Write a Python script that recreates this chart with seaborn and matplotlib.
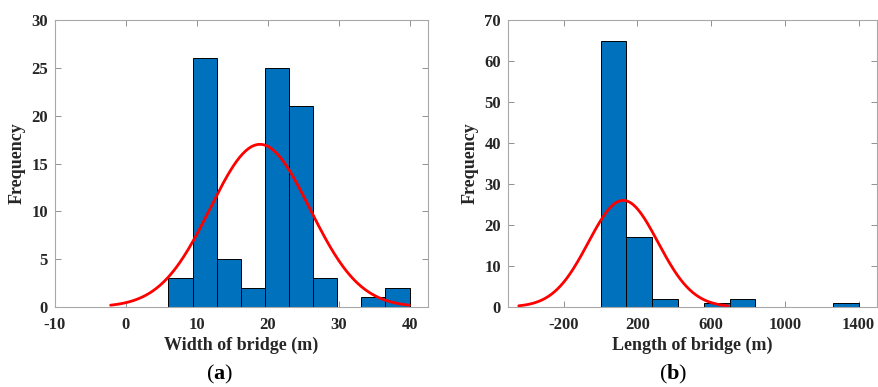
import numpy as np
import pandas as pd
import matplotlib
matplotlib.use("Agg")
import matplotlib.pyplot as plt
import seaborn as sns

# ---- data ----
width_edges = [6.0, 9.4, 12.8, 16.2, 19.6, 23.0, 26.4, 29.8, 33.2, 36.6, 40.0]
width_counts = [3, 26, 5, 2, 25, 21, 3, 0, 1, 2]
width_mu, width_sigma = 18.9, 7.02

length_edges = [0, 140, 280, 420, 560, 700, 840, 980, 1120, 1260, 1400]
length_counts = [65, 17, 2, 0, 1, 2, 0, 0, 0, 1]
length_mu, length_sigma = 123.0, 189.0

width_xticks = [-10, 0, 10, 20, 30, 40]
width_yticks = [0, 5, 10, 15, 20, 25, 30]
length_xticks = [-200, 200, 600, 1000, 1400]
length_yticks = [0, 10, 20, 30, 40, 50, 60, 70]

sns.set_theme(style="white")
plt.rcParams['font.family'] = ['Liberation Serif', 'DejaVu Serif']
plt.rcParams['mathtext.fontset'] = 'custom'
plt.rcParams['mathtext.bf'] = 'Liberation Serif:bold'
plt.rcParams['mathtext.rm'] = 'Liberation Serif'

BLUE = '#0072BD'
fig = plt.figure(figsize=(8.79, 3.87), dpi=100)
axA = fig.add_axes([55/879, 80/387, 373/879, 287/387])
axB = fig.add_axes([508/879, 80/387, 369/879, 287/387])


def panel(ax, edges, counts, mu, sigma, xlim, ylim, xticks, yticks, xlabel, tag, tagx):
    edges = [float(e) for e in edges]
    centers = [(a + b) / 2 for a, b in zip(edges[:-1], edges[1:])]
    df = pd.DataFrame({"x": centers, "w": counts})
    sns.histplot(data=df, x="x", weights="w", bins=edges, ax=ax, color=BLUE,
                 alpha=1.0, edgecolor='black', linewidth=0.7)
    n = sum(counts)
    bw = edges[1] - edges[0]
    xs = np.linspace(mu - 3 * sigma, mu + 3 * sigma, 200)
    ys = n * bw / (sigma * np.sqrt(2 * np.pi)) * np.exp(-0.5 * ((xs - mu) / sigma) ** 2)
    sns.lineplot(x=xs, y=ys, ax=ax, color='red', linewidth=2.0)
    ax.set_xlim(*xlim)
    ax.set_ylim(*ylim)
    ax.set_xticks(xticks)
    ax.set_yticks(yticks)
    ax.set_xticklabels([str(t) for t in xticks], fontsize=12, fontweight='bold', color='#262626')
    ax.set_yticklabels([str(t) for t in yticks], fontsize=12, fontweight='bold', color='#262626')
    ax.tick_params(direction='in', top=True, right=True, length=4, width=0.7,
                   color='#909090', bottom=True, left=True)
    ax.tick_params(axis='x', pad=7)
    ax.tick_params(axis='y', pad=5)
    for s in ax.spines.values():
        s.set_color('#a8a8a8')
        s.set_linewidth(0.8)
    ax.set_xlabel(xlabel, fontsize=13, fontweight='bold', color='#262626', labelpad=3)
    ax.set_ylabel('Frequency', fontsize=13, fontweight='bold', color='#262626', labelpad=4)
    fig.text(tagx, 13/387, '(' + r'$\mathbf{' + tag + '}$' + ')', fontsize=16,
             ha='center', va='center', color='black')


panel(axA, width_edges, width_counts, width_mu, width_sigma, (-10, 42.6), (0, 30),
      width_xticks, width_yticks, 'Width of bridge (m)', 'a', 220/879)
panel(axB, length_edges, length_counts, length_mu, length_sigma, (-502, 1500), (0, 70),
      length_xticks, length_yticks, 'Length of bridge (m)', 'b', 673/879)

fig.savefig('out.png', dpi=100)
